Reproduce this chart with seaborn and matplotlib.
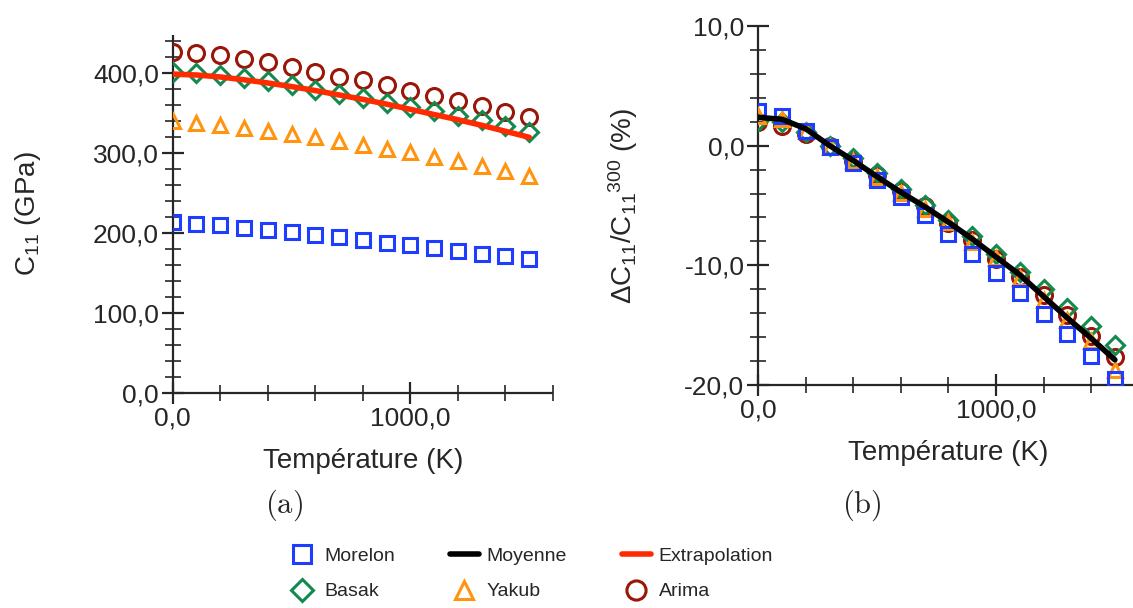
import numpy as np
import pandas as pd
import matplotlib
matplotlib.use("Agg")
import matplotlib.pyplot as plt
import seaborn as sns
from matplotlib.ticker import MultipleLocator, FuncFormatter

# temperatures (K)
temperature = [0, 100, 200, 300, 400, 500, 600, 700, 800, 900, 1000, 1100, 1200, 1300, 1400, 1500]

# C11 (GPa), panel (a)
c11_morelon = [214, 212, 210, 207, 204, 201, 198, 195, 192, 188, 185, 182, 178, 174, 171, 168]
c11_basak = [402, 400, 398, 394, 390, 385, 379, 374, 369, 363, 358, 353, 347, 342, 334, 327]
c11_yakub = [340, 338, 336, 332, 328, 324, 320, 315, 310, 305, 301, 295, 290, 284, 278, 271]
c11_arima = [427, 426, 423, 418, 414, 408, 402, 396, 392, 385, 378, 372, 365, 359, 352, 345]
c11_extrap = [399, 398, 395.5, 392, 388, 383.5, 378.5, 373, 367.5, 361.5, 355, 348.5, 342, 335, 327.5, 320]

# delta C11 / C11(300K) (%), panel (b)
rel_morelon = [2.86, 2.5, 1.25, -0.08, -1.47, -2.86, -4.3, -5.83, -7.42, -9.03, -10.64, -12.28, -14.03, -15.78, -17.58, -19.5]
rel_basak = [2.08, 1.94, 1.11, 0.0, -1.03, -2.31, -3.61, -5.0, -6.25, -7.58, -9.03, -10.56, -11.94, -13.53, -15.08, -16.67]
rel_yakub = [2.5, 2.2, 1.25, -0.08, -1.25, -2.64, -3.97, -5.28, -6.39, -8.06, -9.36, -11.1, -12.9, -14.6, -16.3, -18.75]
rel_arima = [2.0, 1.67, 0.97, 0.0, -1.25, -2.42, -3.75, -5.08, -6.47, -7.86, -9.44, -10.97, -12.5, -14.17, -15.92, -17.64]
rel_moyenne = [2.36, 2.2, 1.4, 0.0, -1.25, -2.6, -3.9, -5.1, -6.4, -7.8, -9.3, -10.8, -12.6, -14.4, -16.1, -17.9]

sns.set_style("ticks")
plt.rcParams["font.family"] = ["Liberation Sans", "DejaVu Sans"]
plt.rcParams["mathtext.default"] = "regular"
plt.rcParams["mathtext.fontset"] = "cm"

colors = {
    "Morelon": "#1f3dff",
    "Basak": "#128a4e",
    "Yakub": "#ff9410",
    "Arima": "#9a1608",
    "Extrapolation": "#ff2a00",
    "Moyenne": "#000000",
}
markers = {"Morelon": "s", "Basak": "D", "Yakub": "^", "Arima": "o"}
msize = {"Morelon": 10.5, "Basak": 9, "Yakub": 10.5, "Arima": 11.5}

left = pd.DataFrame({"T": temperature, "Morelon": c11_morelon, "Basak": c11_basak,
                     "Yakub": c11_yakub, "Arima": c11_arima, "Extrapolation": c11_extrap})
right = pd.DataFrame({"T": temperature, "Morelon": rel_morelon, "Basak": rel_basak,
                      "Yakub": rel_yakub, "Arima": rel_arima, "Moyenne": rel_moyenne})

fig = plt.figure(figsize=(11.33, 6.08), dpi=100)
ax1 = fig.add_axes([0.1524, 0.3536, 0.3357, 0.5888])
ax2 = fig.add_axes([0.6693, 0.3668, 0.3357, 0.5905])

handles = {}
for ax, df in [(ax1, left), (ax2, right)]:
    for name in ["Arima", "Basak", "Yakub", "Morelon"]:
        sns.lineplot(data=df, x="T", y=name, ax=ax, linestyle="none", marker=markers[name],
                     markersize=msize[name], markerfacecolor="none",
                     markeredgecolor=colors[name], markeredgewidth=2.2,
                     color=colors[name], label=name, legend=False, zorder=3)
        handles[name] = ax.lines[-1]

sns.lineplot(data=left, x="T", y="Extrapolation", ax=ax1, color=colors["Extrapolation"],
             linewidth=4, label="Extrapolation", legend=False, zorder=4)
handles["Extrapolation"] = ax1.lines[-1]
sns.lineplot(data=right, x="T", y="Moyenne", ax=ax2, color=colors["Moyenne"],
             linewidth=4, label="Moyenne", legend=False, zorder=4)
handles["Moyenne"] = ax2.lines[-1]

comma = FuncFormatter(lambda v, p: f"{v:.1f}".replace(".", ","))

ax1.set_xlim(0, 1600)
ax1.set_ylim(0, 448)
ax1.yaxis.set_major_locator(MultipleLocator(100))
ax1.yaxis.set_minor_locator(MultipleLocator(20))
ax2.set_xlim(0, 1600)
ax2.set_ylim(-20, 10)
ax2.yaxis.set_major_locator(MultipleLocator(10))
ax2.yaxis.set_minor_locator(MultipleLocator(2))

for ax in (ax1, ax2):
    ax.xaxis.set_major_locator(MultipleLocator(1000))
    ax.xaxis.set_minor_locator(MultipleLocator(200))
    ax.xaxis.set_major_formatter(comma)
    ax.yaxis.set_major_formatter(comma)
    ax.spines["top"].set_visible(False)
    ax.spines["right"].set_visible(False)
    ax.spines["left"].set_linewidth(1.6)
    ax.spines["bottom"].set_linewidth(1.6)
    ax.patch.set_alpha(0)
    ax.tick_params(which="major", direction="inout", length=16, width=1.6, labelsize=19, pad=2)
    ax.tick_params(which="minor", direction="inout", length=11, width=1.2)
    ax.set_xlabel("Température (K)", fontsize=20, labelpad=12)
    for sp in ax.spines.values():
        sp.set_capstyle("butt")

ax1.set_ylabel(r"C$_{11}$ (GPa)", fontsize=20, labelpad=36)
ax2.set_ylabel(r"ΔC$_{11}$/C$_{11}$$^{300}$ (%)", fontsize=20, labelpad=32)

fig.text(284 / 1133, 1 - 505 / 608, r"$\mathrm{(a)}$", fontsize=22, ha="center", va="center")
fig.text(862 / 1133, 1 - 505 / 608, r"$\mathrm{(b)}$", fontsize=22, ha="center", va="center")

order = ["Morelon", "Basak", "Moyenne", "Yakub", "Extrapolation", "Arima"]
fig.legend([handles[n] for n in order], order, loc="center", bbox_to_anchor=(0.468, 0.056),
           ncol=3, frameon=False, fontsize=14, numpoints=1, handlelength=1.5, markerscale=1.2,
           handletextpad=0.4, columnspacing=2.8, labelspacing=0.9)

fig.savefig("out.png", dpi=100)
